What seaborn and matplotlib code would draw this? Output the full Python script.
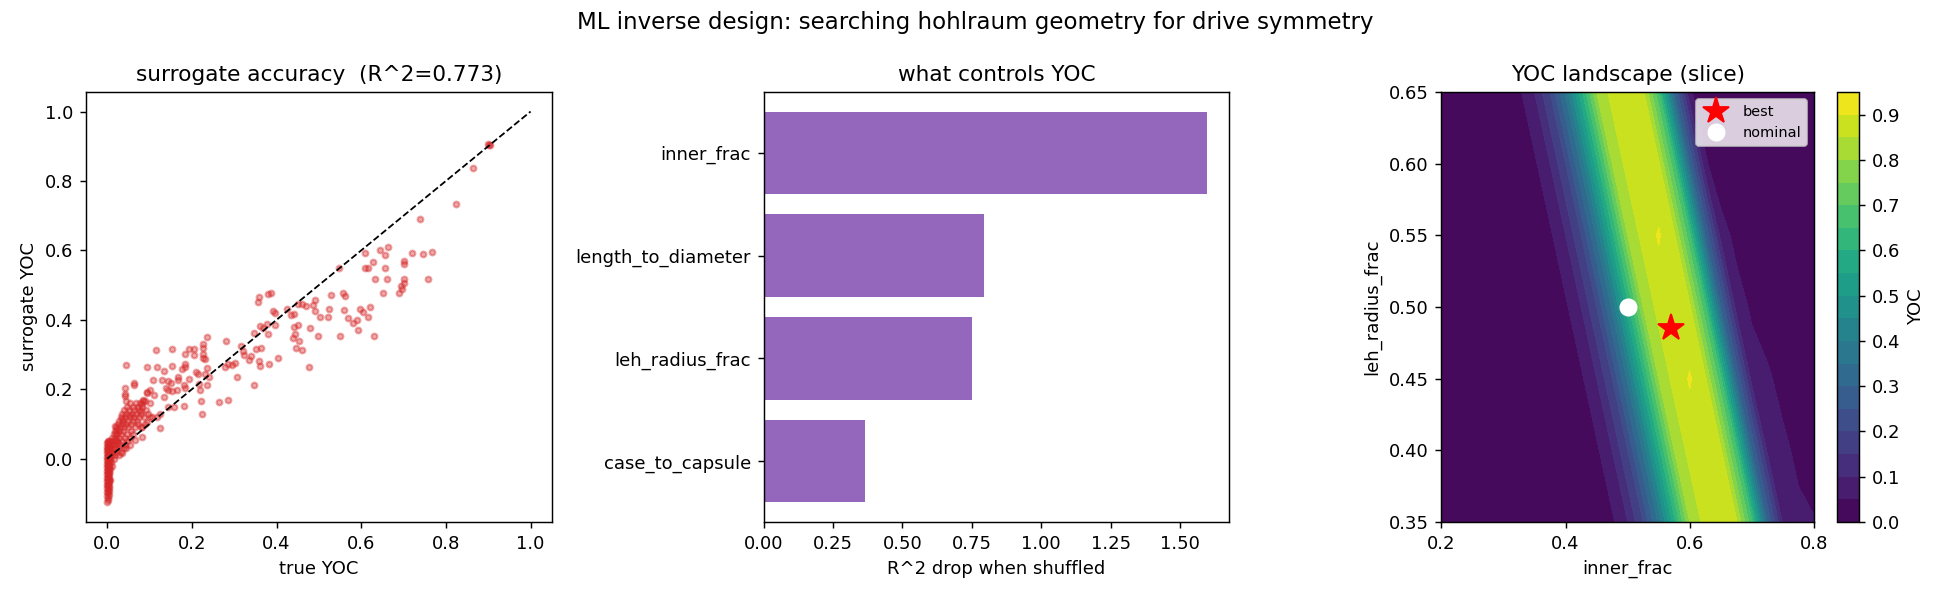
import numpy as np
import pandas as pd
import matplotlib
matplotlib.use("Agg")
import matplotlib.pyplot as plt
import seaborn as sns

# ---------------- data ----------------
# scatter: (true YOC, surrogate YOC)
tail_points = [
    (0.902, 0.905), (0.905, 0.903), (0.900, 0.907), (0.863, 0.836), (0.825, 0.733),
    (0.738, 0.690), (0.766, 0.594), (0.747, 0.589), (0.721, 0.592), (0.758, 0.517),
    (0.701, 0.569), (0.700, 0.560), (0.700, 0.518), (0.701, 0.507), (0.694, 0.498),
    (0.697, 0.488), (0.690, 0.478), (0.663, 0.610), (0.644, 0.600), (0.655, 0.586),
    (0.629, 0.567), (0.657, 0.548), (0.617, 0.550), (0.610, 0.548), (0.608, 0.592),
    (0.661, 0.517), (0.633, 0.517), (0.651, 0.477), (0.547, 0.548), (0.620, 0.438),
    (0.596, 0.430), (0.604, 0.423), (0.616, 0.407), (0.589, 0.399), (0.581, 0.390),
    (0.592, 0.370), (0.631, 0.353), (0.568, 0.405), (0.560, 0.428), (0.558, 0.477),
    (0.561, 0.468), (0.551, 0.353), (0.529, 0.471), (0.524, 0.430), (0.522, 0.407),
    (0.503, 0.407), (0.492, 0.458), (0.485, 0.443), (0.490, 0.426), (0.497, 0.353),
    (0.479, 0.376), (0.476, 0.265), (0.461, 0.446), (0.470, 0.439), (0.451, 0.447),
    (0.424, 0.430), (0.434, 0.414), (0.441, 0.416), (0.451, 0.385), (0.442, 0.380),
    (0.443, 0.359), (0.439, 0.347), (0.454, 0.339), (0.447, 0.318), (0.461, 0.313),
    (0.403, 0.291), (0.391, 0.424), (0.396, 0.421), (0.387, 0.477), (0.379, 0.475),
    (0.359, 0.466), (0.356, 0.452), (0.377, 0.389), (0.396, 0.385), (0.369, 0.376),
    (0.362, 0.383), (0.347, 0.363), (0.380, 0.359), (0.363, 0.318), (0.352, 0.315),
    (0.358, 0.282), (0.360, 0.267), (0.383, 0.273), (0.347, 0.213), (0.339, 0.295),
    (0.334, 0.284), (0.320, 0.311), (0.316, 0.325), (0.324, 0.298), (0.306, 0.236),
    (0.303, 0.277), (0.295, 0.271), (0.281, 0.339), (0.278, 0.265), (0.286, 0.273),
    (0.263, 0.164), (0.286, 0.169), (0.236, 0.351), (0.227, 0.330), (0.227, 0.320),
    (0.227, 0.301), (0.226, 0.291), (0.231, 0.286), (0.236, 0.261), (0.231, 0.244),
    (0.240, 0.236), (0.236, 0.213), (0.217, 0.215), (0.219, 0.198), (0.221, 0.167),
    (0.225, 0.129), (0.210, 0.250), (0.215, 0.244), (0.206, 0.315), (0.194, 0.315),
    (0.204, 0.299), (0.184, 0.303), (0.185, 0.274), (0.184, 0.265), (0.177, 0.258),
    (0.194, 0.231), (0.168, 0.236), (0.167, 0.226), (0.181, 0.213), (0.185, 0.203),
    (0.181, 0.151), (0.164, 0.198), (0.152, 0.196), (0.150, 0.219), (0.153, 0.267),
    (0.152, 0.317), (0.158, 0.150), (0.143, 0.150), (0.139, 0.205), (0.143, 0.224),
    (0.135, 0.253), (0.116, 0.313), (0.118, 0.263), (0.130, 0.226), (0.143, 0.198),
    (0.135, 0.178), (0.125, 0.130), (0.125, 0.088), (0.118, 0.119), (0.111, 0.184),
    (0.109, 0.226), (0.101, 0.198), (0.093, 0.265), (0.094, 0.192), (0.084, 0.167),
    (0.082, 0.159), (0.080, 0.138), (0.064, 0.213), (0.064, 0.219), (0.044, 0.269),
    (0.042, 0.203), (0.042, 0.186), (0.082, 0.063), (0.082, 0.090), (0.093, 0.105),
    (0.105, 0.119),
]
cluster_points = [
    (0.006, -0.06), (0.006, -0.03), (0.007, 0.00), (0.008, 0.02), (0.008, 0.04),
    (0.009, -0.01), (0.010, 0.03), (0.010, 0.05), (0.011, 0.01), (0.012, 0.06),
    (0.012, -0.02), (0.013, 0.04), (0.014, 0.02), (0.015, 0.07), (0.015, 0.00),
    (0.016, 0.05), (0.017, 0.03), (0.018, 0.08), (0.018, 0.01), (0.019, 0.06),
    (0.020, 0.04), (0.021, 0.09), (0.022, 0.02), (0.023, 0.07), (0.024, 0.05),
    (0.025, 0.10), (0.026, 0.03), (0.027, 0.08), (0.028, 0.06), (0.029, 0.11),
    (0.030, 0.04), (0.030, 0.09), (0.020, 0.075), (0.022, 0.055), (0.026, 0.045),
    (0.032, 0.12), (0.032, 0.07), (0.033, 0.02), (0.034, 0.10), (0.035, 0.13),
    (0.036, 0.05), (0.037, 0.08), (0.038, 0.11), (0.039, 0.03), (0.040, 0.14),
    (0.040, 0.09), (0.041, 0.06), (0.042, 0.12), (0.043, 0.04), (0.044, 0.10),
    (0.045, 0.13), (0.046, 0.07), (0.047, 0.15), (0.048, 0.05), (0.049, 0.11),
    (0.050, 0.09), (0.042, 0.18), (0.044, 0.165), (0.052, 0.14), (0.053, 0.06),
    (0.054, 0.12), (0.055, 0.16), (0.056, 0.10), (0.057, 0.08), (0.058, 0.13),
    (0.060, 0.15), (0.061, 0.11), (0.062, 0.07), (0.063, 0.14), (0.064, 0.12),
    (0.066, 0.09), (0.067, 0.16), (0.068, 0.13), (0.070, 0.11), (0.065, 0.055),
    (0.072, 0.15), (0.073, 0.10), (0.075, 0.14), (0.076, 0.12), (0.078, 0.16),
    (0.080, 0.13), (0.081, 0.09), (0.083, 0.15), (0.085, 0.17), (0.087, 0.12),
    (0.089, 0.165), (0.090, 0.10), (0.092, 0.14), (0.095, 0.19), (0.097, 0.13),
    (0.100, 0.12), (0.102, 0.16), (0.035, 0.015), (0.045, 0.03), (0.055, 0.04),
    (0.028, 0.012), (0.018, 0.095), (0.024, 0.085), (0.034, 0.115), (0.051, 0.125),
]
zero_points = [
    (0.000, -0.126), (0.000, -0.108), (0.000, -0.095), (0.000, -0.085), (0.000, -0.075),
    (0.000, -0.065), (0.000, -0.055), (0.000, -0.045), (0.000, -0.035), (0.000, -0.025),
    (0.000, -0.015), (0.000, -0.005), (0.000, 0.005), (0.000, 0.015), (0.000, 0.025),
    (0.000, 0.035), (0.000, 0.045),
    (0.002, -0.118), (0.002, -0.100), (0.002, -0.090), (0.002, -0.080), (0.002, -0.070),
    (0.002, -0.060), (0.002, -0.050), (0.002, -0.040), (0.002, -0.030), (0.002, -0.020),
    (0.002, -0.010), (0.002, 0.000), (0.002, 0.010), (0.002, 0.020), (0.002, 0.030),
    (0.002, 0.040), (0.002, 0.050),
    (0.004, -0.104), (0.004, -0.092), (0.004, -0.078), (0.004, -0.068), (0.004, -0.058),
    (0.004, -0.048), (0.004, -0.038), (0.004, -0.028), (0.004, -0.018), (0.004, -0.008),
    (0.004, 0.002), (0.004, 0.012), (0.004, 0.022), (0.004, 0.032), (0.004, 0.042),
    (0.005, -0.085), (0.005, -0.062), (0.005, -0.042), (0.005, -0.022), (0.005, -0.002),
    (0.005, 0.018), (0.005, 0.038), (0.005, 0.052),
    (0.001, -0.113), (0.001, -0.072), (0.001, -0.052), (0.001, -0.032), (0.001, -0.012),
    (0.001, 0.008), (0.001, 0.028), (0.001, 0.048),
]
r2_value = 0.773

# permutation importance
features = ["inner_frac", "length_to_diameter", "leh_radius_frac", "case_to_capsule"]
r2_drop = [1.598, 0.793, 0.750, 0.364]
drop_ticks = [0.0, 0.25, 0.5, 0.75, 1.0, 1.25, 1.5]

# YOC landscape slice (grid)
inner_frac_grid = np.round(np.arange(0.2, 0.8001, 0.025), 4)      # 25 columns
leh_radius_grid = [0.35, 0.40, 0.45, 0.50, 0.55, 0.60, 0.65]     # 7 rows
yoc_grid = [
    [0, 0, 0, 0, 0, 0, 0, 0, 0, 0, 0, 0.04, 0.10, 0.20, 0.36, 0.58, 0.80, 0.87, 0.89, 0.86, 0.66, 0.30, 0.09, 0.07, 0.055],
    [0, 0, 0, 0, 0, 0, 0, 0, 0, 0, 0.04, 0.10, 0.20, 0.36, 0.58, 0.80, 0.87, 0.89, 0.86, 0.66, 0.30, 0.09, 0.07, 0.03, 0],
    [0, 0, 0, 0, 0, 0, 0, 0, 0, 0.04, 0.10, 0.20, 0.36, 0.58, 0.80, 0.87, 0.905, 0.86, 0.66, 0.30, 0.08, 0.065, 0.02, 0, 0],
    [0, 0, 0, 0, 0, 0, 0, 0, 0.04, 0.10, 0.20, 0.36, 0.58, 0.80, 0.87, 0.89, 0.86, 0.66, 0.30, 0.08, 0.04, 0, 0, 0, 0],
    [0, 0, 0, 0, 0, 0, 0, 0.04, 0.10, 0.20, 0.36, 0.58, 0.80, 0.87, 0.905, 0.86, 0.66, 0.30, 0.08, 0.03, 0, 0, 0, 0, 0],
    [0, 0, 0, 0, 0, 0, 0.04, 0.10, 0.20, 0.36, 0.58, 0.80, 0.87, 0.89, 0.86, 0.66, 0.30, 0.06, 0, 0, 0, 0, 0, 0, 0],
    [0, 0, 0, 0, 0, 0.04, 0.10, 0.20, 0.36, 0.58, 0.80, 0.87, 0.89, 0.86, 0.66, 0.30, 0.06, 0, 0, 0, 0, 0, 0, 0, 0],
]
best_point = (0.57, 0.485)
nominal_point = (0.50, 0.50)
yoc_levels = np.round(np.arange(0, 0.951, 0.05), 3)
cbar_ticks = [0.0, 0.1, 0.2, 0.3, 0.4, 0.5, 0.6, 0.7, 0.8, 0.9]

# ---------------- figure ----------------
all_pts = tail_points + cluster_points + zero_points
scatter_df = pd.DataFrame(all_pts, columns=["true", "pred"])
imp_df = pd.DataFrame({"feature": features, "drop": r2_drop})

fig = plt.figure(figsize=(15, 4.6), dpi=130)
ax1, ax2, ax3 = fig.subplots(1, 3)
fig.subplots_adjust(left=0.0441, right=0.978, bottom=0.1271, top=0.8462, wspace=0.455)

red = "#d62728"
sns.scatterplot(data=scatter_df, x="true", y="pred", ax=ax1, color=red,
                edgecolor=red, s=10, linewidth=1.2, alpha=0.4, legend=False)
ax1.plot([0, 1], [0, 1], "k--", lw=1)
ax1.set_xlabel("true YOC")
ax1.set_ylabel("surrogate YOC")
ax1.set_title(f"surrogate accuracy  (R^2={r2_value:.3f})")

sns.barplot(data=imp_df, x="drop", y="feature", orient="h", ax=ax2,
            color="#9467bd", saturation=1, width=0.8)
ax2.set_ylim(3.59, -0.59)
ax2.set_xlim(0, 1.598 * 1.05)
ax2.set_xticks(drop_ticks)
ax2.set_xlabel("R^2 drop when shuffled")
ax2.set_ylabel("")
ax2.set_title("what controls YOC")

cf = ax3.contourf(inner_frac_grid, leh_radius_grid, np.array(yoc_grid),
                  levels=yoc_levels, cmap="viridis")
ax3.plot(*best_point, marker="*", color="red", ms=15, ls="none", label="best")
ax3.plot(*nominal_point, marker="o", color="white", ms=9, ls="none", label="nominal")
ax3.set_xticks([0.2, 0.4, 0.6, 0.8])
ax3.set_xlim(0.2, 0.8)
ax3.set_ylim(0.35, 0.65)
ax3.set_xlabel("inner_frac")
ax3.set_ylabel("leh_radius_frac")
ax3.set_title("YOC landscape (slice)")
ax3.legend(loc="upper right", fontsize=8)
cb = fig.colorbar(cf, ax=ax3)
cb.set_ticks(cbar_ticks)
cb.set_label("YOC")

fig.suptitle("ML inverse design: searching hohlraum geometry for drive symmetry",
             fontsize=12.7, y=1 - 22 / 598, va="center")
fig.savefig("out.png", dpi=130)
